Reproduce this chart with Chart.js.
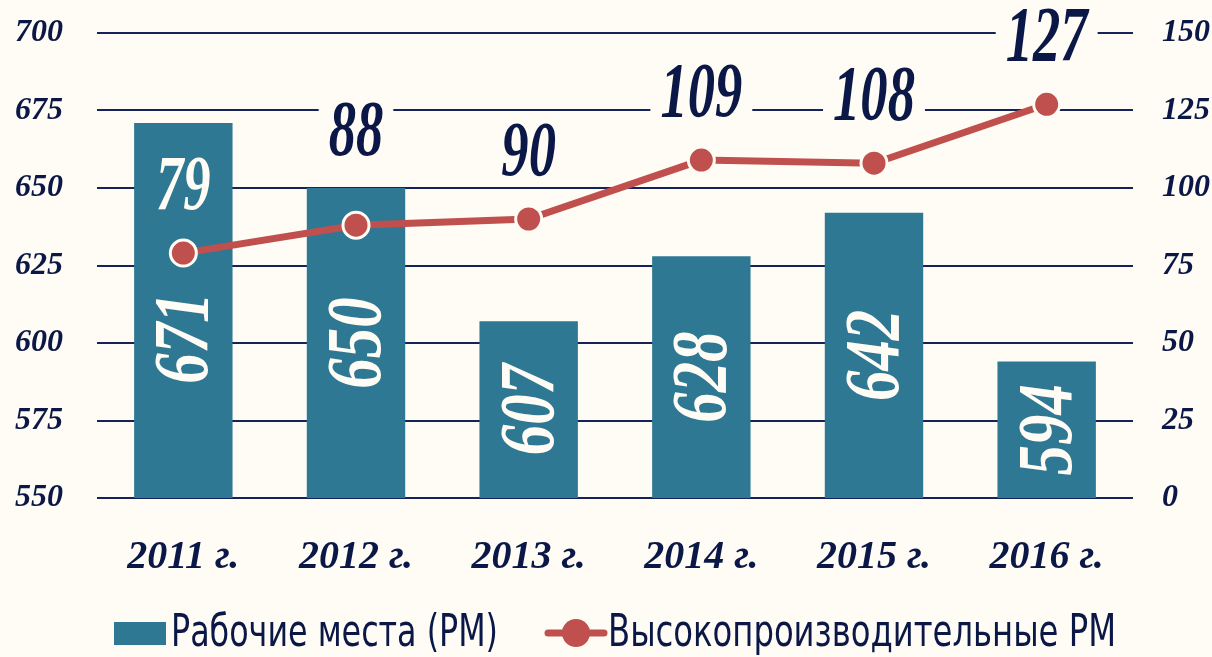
<!DOCTYPE html>
<html lang="ru">
<head>
    <meta charset="UTF-8">
    <title>Рабочие места</title>
    <script src="https://cdn.jsdelivr.net/npm/chart.js"></script>
    <style>
        html, body { margin: 0; padding: 0; background: #FEFCF4; }
        .wrap { width: 1212px; height: 657px; position: relative; }
    </style>
</head>
<body>
    <div class="wrap">
        <canvas id="chart"></canvas>
    </div>

    <script>
        // data
        const years = ['2011 г.', '2012 г.', '2013 г.', '2014 г.', '2015 г.', '2016 г.'];
        const workplaces = [671, 650, 607, 628, 642, 594];
        const highPerf = [79, 88, 90, 109, 108, 127];
        const leftTicks = [550, 700, 25];   // min, max, step
        const rightTicks = [0, 150, 25];
        const seriesNames = ['Рабочие места (РМ)', 'Высокопроизводительные РМ'];

        const BG = '#FEFCF4';
        const NAVY = '#0B1847';
        const TEAL = '#2E7893';
        const RED = '#C0504D';
        const SERIF = "'Liberation Serif', 'DejaVu Serif', serif";
        const NARROW = "'Liberation Sans Narrow', 'DejaVu Sans Condensed', 'Roboto', sans-serif";

        const background = {
            id: 'background',
            beforeDraw(chart) {
                const ctx = chart.ctx;
                ctx.save();
                ctx.fillStyle = BG;
                ctx.fillRect(0, 0, chart.width, chart.height);
                ctx.restore();
            }
        };

        // big italic numbers on bars and above points
        const valueLabels = {
            id: 'valueLabels',
            afterDatasetsDraw(chart) {
                const ctx = chart.ctx;
                const bottom = chart.chartArea.bottom;
                const bars = chart.getDatasetMeta(0).data;
                const pts = chart.getDatasetMeta(1).data;
                ctx.save();
                ctx.font = 'italic bold 78px ' + SERIF;
                ctx.textAlign = 'center';
                ctx.textBaseline = 'middle';

                bars.forEach((bar, i) => {
                    const p = pts[i];
                    let cy = (bar.y + bottom) / 2;
                    if (cy - 45 < p.y + 40) cy = p.y + 85;
                    ctx.save();
                    ctx.translate(bar.x, cy);
                    ctx.rotate(-Math.PI / 2);
                    ctx.scale(0.78, 1);
                    ctx.fillStyle = BG;
                    ctx.fillText(String(workplaces[i]), 0, 4);
                    ctx.restore();
                });

                pts.forEach((p, i) => {
                    const bar = bars[i];
                    let ly = p.y - 66;
                    if (ly + 29 > bar.y - 5 && ly - 29 < bar.y + 5) ly = bar.y - 56;
                    const txt = String(highPerf[i]);
                    const w = ctx.measureText(txt).width * 0.7;
                    const onBar = ly > bar.y;
                    ctx.save();
                    ctx.translate(p.x, ly);
                    if (!onBar) {
                        ctx.fillStyle = BG;
                        ctx.fillRect(-w / 2 - 10, -32, w + 20, 62);
                    }
                    ctx.scale(0.7, 1);
                    ctx.fillStyle = onBar ? BG : NAVY;
                    ctx.fillText(txt, 0, 2);
                    ctx.restore();
                });
                ctx.restore();
            }
        };

        // legend at the bottom: teal box, red line with dot
        const bottomLegend = {
            id: 'bottomLegend',
            afterDraw(chart) {
                const ctx = chart.ctx;
                const y = 633;
                ctx.save();
                ctx.font = '44px ' + NARROW;
                ctx.textBaseline = 'middle';
                const t1 = ctx.measureText(seriesNames[0]).width;
                const t2 = ctx.measureText(seriesNames[1]).width;
                const s1 = 327 / t1, s2 = 508 / t2;
                const total = 52 + 5 + 327 + 50 + 56 + 4 + 508;
                let x = 615 - total / 2;

                ctx.fillStyle = TEAL;
                ctx.fillRect(x, y - 11, 52, 23);
                x += 57;
                ctx.save();
                ctx.translate(x, y + 2);
                ctx.scale(s1, 1);
                ctx.fillStyle = NAVY;
                ctx.fillText(seriesNames[0], 0, 0);
                ctx.restore();
                x += 327 + 50;

                ctx.strokeStyle = RED;
                ctx.lineWidth = 7;
                ctx.lineCap = 'round';
                ctx.beginPath();
                ctx.moveTo(x, y);
                ctx.lineTo(x + 56, y);
                ctx.stroke();
                ctx.beginPath();
                ctx.arc(x + 28, y, 14, 0, Math.PI * 2);
                ctx.fillStyle = RED;
                ctx.fill();
                x += 60;

                ctx.save();
                ctx.translate(x, y + 2);
                ctx.scale(s2, 1);
                ctx.fillStyle = NAVY;
                ctx.fillText(seriesNames[1], 0, 0);
                ctx.restore();
                ctx.restore();
            }
        };

        // keep the tick padding from pushing the plot down
        function fixSide(width) {
            return function (scale) {
                scale.width = width;
                scale.paddingTop = 10;
                scale.paddingBottom = 10;
            };
        }

        new Chart(document.getElementById('chart'), {
            type: 'bar',
            data: {
                labels: years,
                datasets: [{
                    label: seriesNames[0],
                    data: workplaces,
                    backgroundColor: TEAL,
                    barPercentage: 0.57,
                    categoryPercentage: 1,
                    yAxisID: 'y',
                    order: 1
                }, {
                    type: 'line',
                    label: seriesNames[1],
                    data: highPerf,
                    borderColor: RED,
                    borderWidth: 7,
                    pointRadius: 13,
                    pointHoverRadius: 13,
                    pointBackgroundColor: RED,
                    pointBorderColor: BG,
                    pointBorderWidth: 3,
                    yAxisID: 'y1',
                    order: 0
                }]
            },
            options: {
                responsive: true,
                maintainAspectRatio: false,
                animation: false,
                layout: { padding: { top: 33, left: 0, right: 0, bottom: 0 } },
                plugins: {
                    legend: { display: false },
                    tooltip: { enabled: false }
                },
                scales: {
                    x: {
                        grid: { display: false },
                        border: { display: false },
                        ticks: {
                            color: NAVY,
                            padding: 28,
                            font: { family: SERIF, size: 40, style: 'italic', weight: 'bold' }
                        },
                        afterFit(scale) { scale.height = 159; }
                    },
                    y: {
                        position: 'left',
                        min: leftTicks[0],
                        max: leftTicks[1],
                        grid: { color: '#14245A', lineWidth: 2, drawTicks: false },
                        border: { display: false },
                        ticks: {
                            stepSize: leftTicks[2],
                            color: NAVY,
                            padding: 34,
                            font: { family: SERIF, size: 32, style: 'italic', weight: 'bold' }
                        },
                        afterFit: fixSide(97)
                    },
                    y1: {
                        position: 'right',
                        min: rightTicks[0],
                        max: rightTicks[1],
                        grid: { display: false, drawTicks: false },
                        border: { display: false },
                        ticks: {
                            stepSize: rightTicks[2],
                            color: NAVY,
                            padding: 29,
                            font: { family: SERIF, size: 32, style: 'italic', weight: 'bold' }
                        },
                        afterFit: fixSide(79)
                    }
                }
            },
            plugins: [background, valueLabels, bottomLegend]
        });
    </script>
</body>
</html>
